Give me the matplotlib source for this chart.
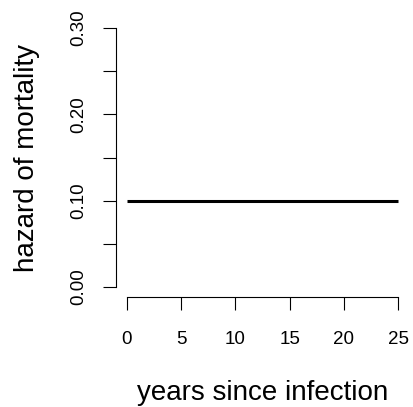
import matplotlib
matplotlib.use("Agg")
import matplotlib.pyplot as plt

# data
years = [0, 25]
hazard = [0.10, 0.10]
xticks = [0, 5, 10, 15, 20, 25]
yticks = [0.00, 0.05, 0.10, 0.15, 0.20, 0.25, 0.30]
ylabels = ["0.00", "", "0.10", "", "0.20", "", "0.30"]

plt.rcParams['font.family'] = ['Liberation Sans', 'DejaVu Sans']

fig = plt.figure(figsize=(4.14, 4.07), dpi=100)
ax = fig.add_axes([116/414, 1 - 297.4/407, (409 - 116)/414, (297.4 - 17.6)/407])

ax.plot(years, hazard, color='black', lw=2.2, solid_capstyle='butt')

ax.set_xlim(-1, 26)
ax.set_ylim(-0.012, 0.312)

ax.spines['top'].set_visible(False)
ax.spines['right'].set_visible(False)
ax.spines['left'].set_bounds(0, 0.30)
ax.spines['bottom'].set_bounds(0, 25)
for s in ['left', 'bottom']:
    ax.spines[s].set_linewidth(0.8)

ax.set_xticks(xticks)
ax.set_xticklabels([str(v) for v in xticks])
ax.set_yticks(yticks)
ax.set_yticklabels(ylabels, rotation=90, va='center')

ax.tick_params(axis='x', length=9.4, width=0.8, pad=14.5, labelsize=13.5)
ax.tick_params(axis='y', length=9.4, width=0.8, pad=11.3, labelsize=13.5)

ax.set_xlabel('years since infection', fontsize=20, labelpad=23)
ax.set_ylabel('hazard of mortality', fontsize=20, labelpad=22)

fig.savefig('out.png', dpi=100)
